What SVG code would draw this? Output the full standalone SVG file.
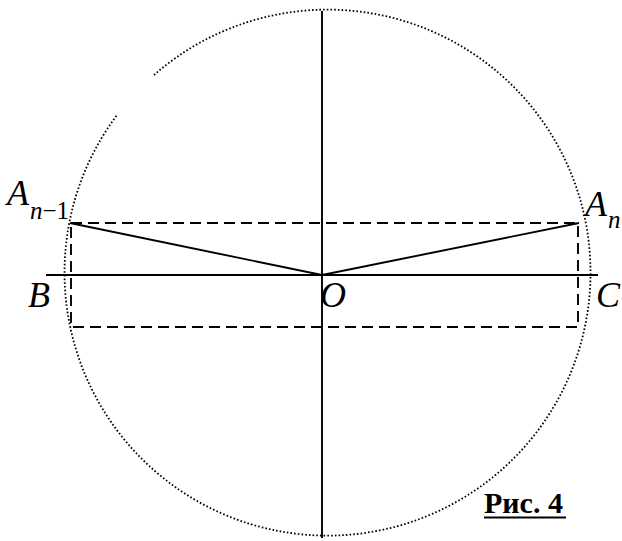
<svg xmlns="http://www.w3.org/2000/svg" width="622" height="541" viewBox="0 0 622 541">
<style>
.dot{fill:none;stroke:#000;stroke-width:1.8;stroke-dasharray:1.6 2.1}
.dash{fill:none;stroke:#000;stroke-width:1.9;stroke-dasharray:11 6}
.ln{stroke:#000;stroke-width:1.9;fill:none}
.lbl{font-family:"Liberation Serif",serif;font-style:italic;font-size:36px;fill:#000}
.sub{font-family:"Liberation Serif",serif;font-style:italic;font-size:25px;fill:#000}
.cap{font-family:"Liberation Serif",serif;font-weight:bold;font-size:30px;fill:#000}
</style>
<rect width="622" height="541" fill="#fff"/>
<g id="circle">
<path class="dot" d="M154,75 A263,263 0 1 1 117,115"/>
</g>
<g id="axes">
<line class="ln" x1="322" y1="11" x2="322" y2="538"/>
<line class="ln" x1="46" y1="275" x2="598" y2="275"/>
</g>
<g id="rect">
<rect class="dash" x="71" y="223" width="507" height="104"/>
</g>
<g id="connectors">
<line class="ln" x1="70" y1="223" x2="322" y2="275"/>
<line class="ln" x1="579" y1="223" x2="322" y2="275"/>
</g>
<g id="labels">
<text class="lbl" x="7" y="205">A</text>
<text class="sub" x="30" y="219">n<tspan font-style="normal">−1</tspan></text>
<text class="lbl" x="585" y="216">A</text>
<text class="sub" x="608" y="228">n</text>
<text class="lbl" x="28" y="307">B</text>
<text class="lbl" x="320" y="307">O</text>
<text class="lbl" x="596" y="307">C</text>
<text class="cap" x="484" y="513">Рис. 4</text>
<line class="ln" x1="484" y1="517.5" x2="566" y2="517.5" stroke-width="3"/>
</g>
</svg>
